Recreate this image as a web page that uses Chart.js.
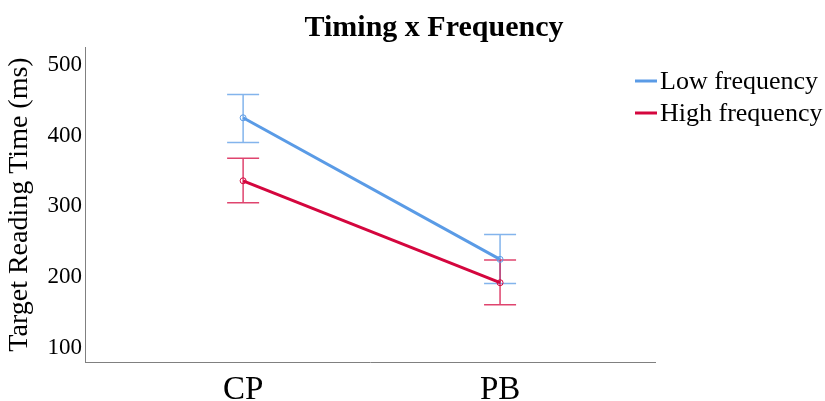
<!DOCTYPE html>
<html>
<head>
<meta charset="utf-8">
<script src="https://cdn.jsdelivr.net/npm/chart.js@4"></script>
<style>
  html, body { margin: 0; padding: 0; background: #fff; }
  #wrap { width: 825px; height: 401px; }
</style>
</head>
<body>
<div id="wrap"><canvas id="timingChart" width="825" height="401"></canvas></div>
<script>
const categories = ["CP", "PB"];
const seriesNames = ["Low frequency", "High frequency"];
const lowMeans = [425, 225];
const lowUpper = [458, 260];
const lowLower = [390, 191];
const highMeans = [336, 192];
const highUpper = [368, 224];
const highLower = [305, 161];
const yTicks = [100, 200, 300, 400, 500];
const chartTitle = "Timing x Frequency";

const serif = "'Liberation Serif', 'Times New Roman', serif";
const blue = "#5a9be6";
const red = "#d4063e";

const toPoints = (vals) => vals.map((v, i) => ({ x: i, y: v }));

// vertical error bars with caps, drawn from the upper/lower arrays
const errorBars = {
  id: "errorBars",
  beforeDatasetsDraw(chart) {
    const { ctx, scales } = chart;
    const cap = 16;
    chart.data.datasets.forEach((ds) => {
      ctx.save();
      ctx.strokeStyle = ds.errColor;
      ctx.lineWidth = 1.5;
      ds.data.forEach((p, i) => {
        const x = scales.x.getPixelForValue(p.x);
        const yt = scales.y.getPixelForValue(ds.upper[i]);
        const yb = scales.y.getPixelForValue(ds.lower[i]);
        ctx.beginPath();
        ctx.moveTo(x, yt); ctx.lineTo(x, yb);
        ctx.moveTo(x - cap, yt); ctx.lineTo(x + cap, yt);
        ctx.moveTo(x - cap, yb); ctx.lineTo(x + cap, yb);
        ctx.stroke();
      });
      ctx.restore();
    });
  },
};

// title and legend sit off-centre relative to the plot, so draw them here
const headerAndLegend = {
  id: "headerAndLegend",
  afterDraw(chart) {
    const { ctx } = chart;
    ctx.save();
    ctx.fillStyle = "#000";
    ctx.font = "bold 30px " + serif;
    ctx.textAlign = "center";
    ctx.textBaseline = "alphabetic";
    ctx.fillText(chartTitle, 434, 36);

    ctx.font = "26px " + serif;
    ctx.textAlign = "left";
    ctx.textBaseline = "middle";
    chart.data.datasets.forEach((ds, i) => {
      const y = 81 + i * 32;
      ctx.strokeStyle = ds.borderColor;
      ctx.lineWidth = 3;
      ctx.beginPath();
      ctx.moveTo(635, y); ctx.lineTo(657, y);
      ctx.stroke();
      ctx.fillText(ds.label, 660, y + 1);
    });
    ctx.restore();
  },
};

new Chart(document.getElementById("timingChart"), {
  type: "line",
  data: {
    datasets: [
      {
        label: seriesNames[0],
        data: toPoints(lowMeans),
        upper: lowUpper,
        lower: lowLower,
        borderColor: blue,
        errColor: "rgba(90,155,230,0.75)",
        borderWidth: 3,
        pointRadius: 3,
        pointBorderWidth: 1,
        pointBackgroundColor: "rgba(0,0,0,0)",
        pointBorderColor: blue,
      },
      {
        label: seriesNames[1],
        data: toPoints(highMeans),
        upper: highUpper,
        lower: highLower,
        borderColor: red,
        errColor: "rgba(212,6,62,0.75)",
        borderWidth: 3,
        pointRadius: 3,
        pointBorderWidth: 1,
        pointBackgroundColor: "rgba(0,0,0,0)",
        pointBorderColor: red,
      },
    ],
  },
  options: {
    responsive: false,
    animation: false,
    layout: { padding: { left: 3, right: 170, top: 47, bottom: 0 } },
    plugins: {
      legend: { display: false },
      tooltip: { enabled: false },
      title: { display: false },
    },
    scales: {
      x: {
        type: "linear",
        min: -0.615,
        max: 1.603,
        grid: { display: false, drawTicks: false },
        border: { color: "#808080", width: 1 },
        afterBuildTicks: (axis) => {
          axis.ticks = categories.map((_, i) => ({ value: i }));
        },
        afterFit: (axis) => {
          axis.height = 39;
        },
        ticks: {
          color: "#000",
          padding: 9,
          font: { family: serif, size: 33 },
          callback: (v) => categories[v],
        },
      },
      y: {
        min: 80,
        max: 525,
        grid: { display: false, drawTicks: false },
        border: { color: "#808080", width: 1 },
        afterBuildTicks: (axis) => {
          axis.ticks = yTicks.map((v) => ({ value: v }));
        },
        ticks: {
          color: "#000",
          padding: 3,
          font: { family: serif, size: 23 },
        },
        title: {
          display: true,
          text: "Target Reading Time (ms)",
          color: "#000",
          font: { family: serif, size: 28 },
          padding: { top: 0, bottom: 8 },
        },
      },
    },
  },
  plugins: [errorBars, headerAndLegend],
});
</script>
</body>
</html>
